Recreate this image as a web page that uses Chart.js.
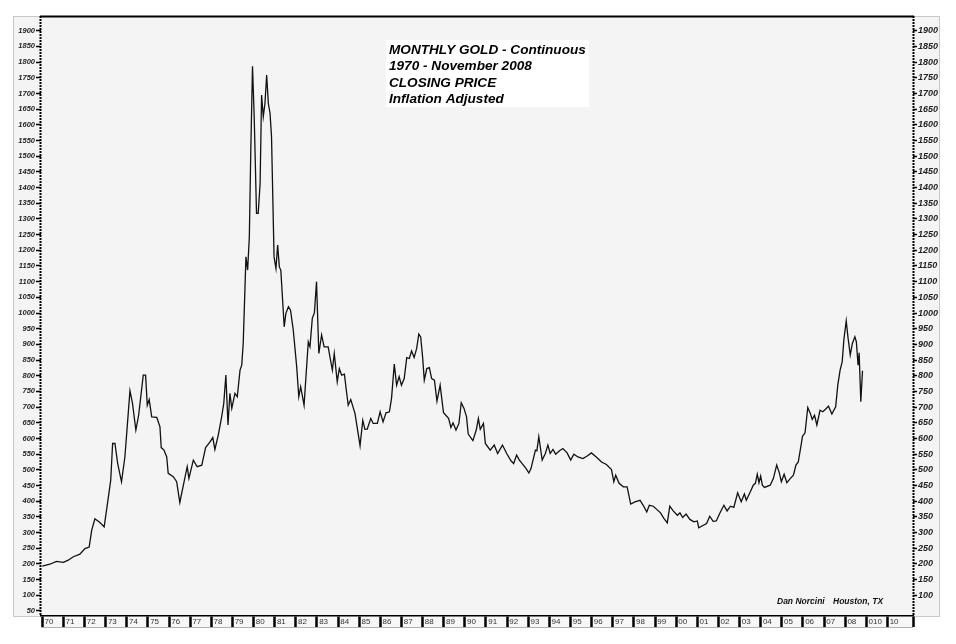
<!DOCTYPE html>
<html>
<head>
<meta charset="utf-8">
<script src="https://cdn.jsdelivr.net/npm/chart.js@4/dist/chart.umd.min.js"></script>
<style>
  body { margin: 0; background: #fff; }
  canvas { display: block; }
</style>
</head>
<body>
<canvas id="goldChart" width="956" height="644"></canvas>
<script>
// month positions (decimal years)
var dates = [
  1970.00, 1970.36, 1970.67, 1971.00, 1971.23, 1971.47, 1971.78, 1972.02, 1972.22, 1972.34,
  1972.49, 1972.73, 1972.93, 1973.13, 1973.24, 1973.33, 1973.44, 1973.57, 1973.75, 1973.91,
  1974.02, 1974.15, 1974.27, 1974.43, 1974.56, 1974.78, 1974.89, 1974.97, 1975.06, 1975.18,
  1975.42, 1975.57, 1975.63, 1975.76, 1975.89, 1975.96, 1976.20, 1976.36, 1976.51, 1976.71,
  1976.86, 1976.94, 1977.15, 1977.33, 1977.55, 1977.73, 1977.94, 1978.07, 1978.17, 1978.33,
  1978.49, 1978.59, 1978.69, 1978.79, 1978.88, 1978.97, 1979.12, 1979.23, 1979.36, 1979.44,
  1979.51, 1979.64, 1979.72, 1979.80, 1979.87, 1979.95, 1980.03, 1980.14, 1980.22, 1980.31,
  1980.38, 1980.46, 1980.54, 1980.62, 1980.70, 1980.78, 1980.85, 1980.97, 1981.06, 1981.14,
  1981.22, 1981.29, 1981.45, 1981.53, 1981.65, 1981.75, 1981.88, 1982.04, 1982.14, 1982.23,
  1982.39, 1982.59, 1982.67, 1982.78, 1982.88, 1982.98, 1983.09, 1983.22, 1983.34, 1983.53,
  1983.73, 1983.82, 1983.96, 1984.06, 1984.17, 1984.30, 1984.37, 1984.48, 1984.60, 1984.80,
  1985.04, 1985.17, 1985.27, 1985.38, 1985.55, 1985.66, 1985.86, 1985.99, 1986.13, 1986.27,
  1986.43, 1986.53, 1986.66, 1986.77, 1986.89, 1987.00, 1987.13, 1987.25, 1987.37, 1987.48,
  1987.60, 1987.72, 1987.82, 1987.91, 1988.00, 1988.08, 1988.20, 1988.32, 1988.43, 1988.56,
  1988.68, 1988.83, 1988.99, 1989.23, 1989.34, 1989.44, 1989.58, 1989.72, 1989.83, 1989.96,
  1990.08, 1990.16, 1990.38, 1990.54, 1990.64, 1990.73, 1990.88, 1990.97, 1991.20, 1991.39,
  1991.55, 1991.78, 1991.98, 1992.19, 1992.31, 1992.45, 1992.58, 1992.77, 1992.90, 1993.03,
  1993.13, 1993.34, 1993.41, 1993.50, 1993.66, 1993.81, 1993.93, 1994.04, 1994.17, 1994.30,
  1994.48, 1994.64, 1994.84, 1995.01, 1995.16, 1995.35, 1995.59, 1995.79, 1995.99, 1996.22,
  1996.47, 1996.70, 1996.94, 1997.05, 1997.14, 1997.30, 1997.50, 1997.68, 1997.85, 1998.05,
  1998.29, 1998.44, 1998.61, 1998.73, 1998.92, 1999.08, 1999.26, 1999.42, 1999.58, 1999.70,
  1999.86, 2000.06, 2000.18, 2000.31, 2000.47, 2000.65, 2000.84, 2001.00, 2001.07, 2001.31,
  2001.44, 2001.59, 2001.75, 2001.90, 2002.06, 2002.26, 2002.41, 2002.57, 2002.73, 2002.91,
  2003.08, 2003.23, 2003.32, 2003.49, 2003.65, 2003.75, 2003.84, 2003.92, 2004.00, 2004.08,
  2004.18, 2004.45, 2004.60, 2004.76, 2004.88, 2004.98, 2005.11, 2005.24, 2005.40, 2005.55,
  2005.67, 2005.78, 2005.90, 2005.98, 2006.10, 2006.23, 2006.35, 2006.44, 2006.55, 2006.66,
  2006.81, 2006.94, 2007.07, 2007.21, 2007.37, 2007.55, 2007.65, 2007.76, 2007.86, 2007.94,
  2008.05, 2008.13, 2008.24, 2008.34, 2008.46, 2008.53, 2008.61, 2008.66, 2008.74, 2008.82
];

// inflation adjusted monthly close
var prices = [
  193, 199, 208, 205, 212, 223, 231, 249, 254, 308,
  344, 332, 318, 414, 467, 584, 584, 520, 462, 541,
  637, 752, 712, 627, 674, 802, 802, 706, 724, 669,
  667, 637, 571, 563, 541, 489, 478, 462, 396, 462,
  510, 473, 531, 510, 515, 571, 589, 603, 565, 611,
  669, 712, 802, 643, 744, 696, 744, 733, 818, 834,
  903, 1179, 1137, 1243, 1520, 1787, 1626, 1318, 1318, 1413,
  1695, 1626, 1668, 1759, 1668, 1637, 1562, 1179, 1142, 1217,
  1147, 1137, 956, 999, 1020, 1009, 945, 830, 733, 765,
  706, 908, 892, 983, 1001, 1100, 871, 930, 892, 892,
  818, 871, 781, 823, 802, 805, 765, 706, 724, 680,
  577, 658, 629, 630, 664, 648, 648, 685, 653, 682,
  685, 728, 837, 770, 797, 770, 791, 858, 855, 879,
  858, 887, 933, 924, 860, 786, 823, 826, 791, 786,
  719, 770, 682, 664, 635, 650, 627, 648, 714, 696,
  669, 614, 593, 627, 664, 629, 648, 584, 563, 579,
  552, 579, 552, 528, 520, 547, 531, 515, 504, 490,
  504, 563, 561, 606, 531, 552, 579, 552, 565, 550,
  561, 568, 554, 531, 550, 541, 536, 544, 554, 541,
  525, 517, 501, 462, 483, 457, 446, 446, 391, 398,
  403, 387, 366, 387, 384, 374, 363, 345, 331, 384,
  369, 355, 363, 348, 359, 342, 334, 337, 315, 324,
  329, 352, 336, 337, 361, 387, 369, 384, 380, 427,
  398, 423, 403, 427, 451, 457, 486, 459, 480, 451,
  444, 451, 472, 515, 491, 462, 486, 459, 472, 483,
  515, 525, 573, 607, 618, 699, 680, 661, 674, 643,
  690, 685, 693, 703, 678, 701, 770, 818, 845, 916,
  975, 924, 866, 903, 924, 908, 834, 873, 717, 816
];

// year tick labels 1970..2010, as printed on the original axis
var yearLabels = [
  '70', '71', '72', '73', '74', '75', '76', '77', '78', '79',
  '80', '81', '82', '83', '84', '85', '86', '87', '88', '89',
  '90', '91', '92', '93', '94', '95', '96', '97', '98', '99',
  '00', '01', '02', '03', '04', '05', '06', '07', '08', '010',
  '10'
];

var leftTicks = [];
for (var v = 50; v <= 1900; v += 50) leftTicks.push(v);
var rightTicks = leftTicks.filter(function (t) { return t >= 100; });

var titleLines = ['MONTHLY GOLD - Continuous', '1970 - November 2008', 'CLOSING PRICE', 'Inflation Adjusted'];

Chart.defaults.font.family = '"Liberation Sans", Arial, sans-serif';

var frame = {
  id: 'frame',
  beforeDraw: function (chart) {
    var ctx = chart.ctx, a = chart.chartArea;
    var yl = chart.scales.y, yr = chart.scales.y2, xs = chart.scales.x;
    ctx.save();
    ctx.fillStyle = '#ffffff';
    ctx.fillRect(0, 0, chart.width, chart.height);
    // grey panel behind axes and plot
    ctx.fillStyle = '#f4f4f4';
    ctx.fillRect(yl.left, a.top, yr.right - yl.left, a.bottom - a.top);
    ctx.strokeStyle = '#c8c8c8';
    ctx.lineWidth = 1;
    ctx.strokeRect(yl.left + 0.5, a.top + 0.5, yr.right - yl.left - 1, a.bottom - a.top);
    // label strip under the plot
    ctx.fillStyle = '#f7f7f7';
    ctx.fillRect(a.left, xs.top, a.right - a.left, xs.bottom - xs.top);
    ctx.beginPath();
    ctx.moveTo(a.left, xs.bottom + 0.5);
    ctx.lineTo(a.right, xs.bottom + 0.5);
    ctx.strokeStyle = '#b0b0b0';
    ctx.stroke();
    ctx.restore();
  },
  afterDraw: function (chart) {
    var ctx = chart.ctx, a = chart.chartArea;
    ctx.save();
    // dotted axis lines
    ctx.strokeStyle = '#000';
    ctx.lineWidth = 2;
    ctx.setLineDash([2, 1]);
    ctx.beginPath();
    ctx.moveTo(a.left - 0.5, a.top);
    ctx.lineTo(a.left - 0.5, a.bottom);
    ctx.moveTo(a.right + 0.5, a.top);
    ctx.lineTo(a.right + 0.5, a.bottom);
    ctx.stroke();
    ctx.setLineDash([]);
    // heavy top rule
    ctx.beginPath();
    ctx.moveTo(a.left - 1, a.top + 0.5);
    ctx.lineTo(a.right + 1, a.top + 0.5);
    ctx.stroke();
    // title box
    ctx.fillStyle = '#ffffff';
    ctx.fillRect(386, 40, 203, 67);
    ctx.fillStyle = '#000';
    ctx.font = 'italic bold 13.6px "Liberation Sans", Arial, sans-serif';
    ctx.textBaseline = 'alphabetic';
    ctx.textAlign = 'left';
    titleLines.forEach(function (t, i) {
      ctx.fillText(t, 389, 54 + i * 16.3);
    });
    // credit
    ctx.font = 'italic bold 8.5px "Liberation Sans", Arial, sans-serif';
    ctx.fillStyle = '#111';
    ctx.fillText('Dan Norcini', 777, 604);
    ctx.fillText('Houston, TX', 833, 604);
    ctx.restore();
  }
};

var ctx = document.getElementById('goldChart');

var goldChart = new Chart(ctx, {
  type: 'line',
  data: {
    datasets: [{
      label: 'Monthly Gold',
      data: dates.map(function (d, i) { return { x: d, y: prices[i] }; }),
      borderColor: '#111',
      borderWidth: 1.3,
      pointRadius: 0,
      tension: 0,
      fill: false
    }]
  },
  options: {
    responsive: false,
    animation: false,
    events: [],
    layout: { padding: { left: 13, right: 16, top: 16, bottom: 17 } },
    plugins: {
      legend: { display: false },
      tooltip: { enabled: false }
    },
    scales: {
      x: {
        type: 'linear',
        position: 'bottom',
        min: 1969.94,
        max: 2011.21,
        afterFit: function (s) { s.height = 11; },
        afterBuildTicks: function (s) {
          var t = yearLabels.map(function (l, i) { return { value: 1970 + i }; });
          t.push({ value: s.max });
          s.ticks = t;
        },
        grid: { display: true, drawOnChartArea: false, drawTicks: true, tickLength: 11, tickWidth: 2.5, tickColor: '#000' },
        border: { display: true, color: '#000', width: 1.5 },
        ticks: {
          align: 'start',
          padding: -10,
          maxRotation: 0,
          autoSkip: false,
          color: '#333',
          font: { size: 8 },
          callback: function (value) {
            var i = value - 1970;
            var l = (i === Math.round(i)) ? yearLabels[i] : '';
            return l ? ' ' + l : '';
          }
        }
      },
      y: {
        type: 'linear',
        position: 'left',
        min: 34,
        max: 1947,
        afterFit: function (s) { s.width = 28; },
        afterBuildTicks: function (s) {
          s.ticks = leftTicks.map(function (t) { return { value: t }; });
        },
        grid: { display: true, drawOnChartArea: false, tickLength: 5, tickWidth: 1.5, tickColor: '#000' },
        border: { display: false },
        ticks: {
          padding: 1,
          autoSkip: false,
          color: '#222',
          font: { size: 7.5, style: 'italic', weight: 'bold' },
          callback: function (value) { return String(value); }
        }
      },
      y2: {
        type: 'linear',
        position: 'right',
        display: true,
        min: 34,
        max: 1947,
        afterFit: function (s) { s.width = 27; },
        afterBuildTicks: function (s) {
          s.ticks = rightTicks.map(function (t) { return { value: t }; });
        },
        grid: { display: true, drawOnChartArea: false, tickLength: 4, tickWidth: 1.5, tickColor: '#000' },
        border: { display: false },
        ticks: {
          padding: 1,
          autoSkip: false,
          color: '#222',
          font: { size: 9, style: 'italic', weight: 'bold' },
          callback: function (value) { return String(value); }
        }
      }
    }
  },
  plugins: [frame]
});
</script>
</body>
</html>
